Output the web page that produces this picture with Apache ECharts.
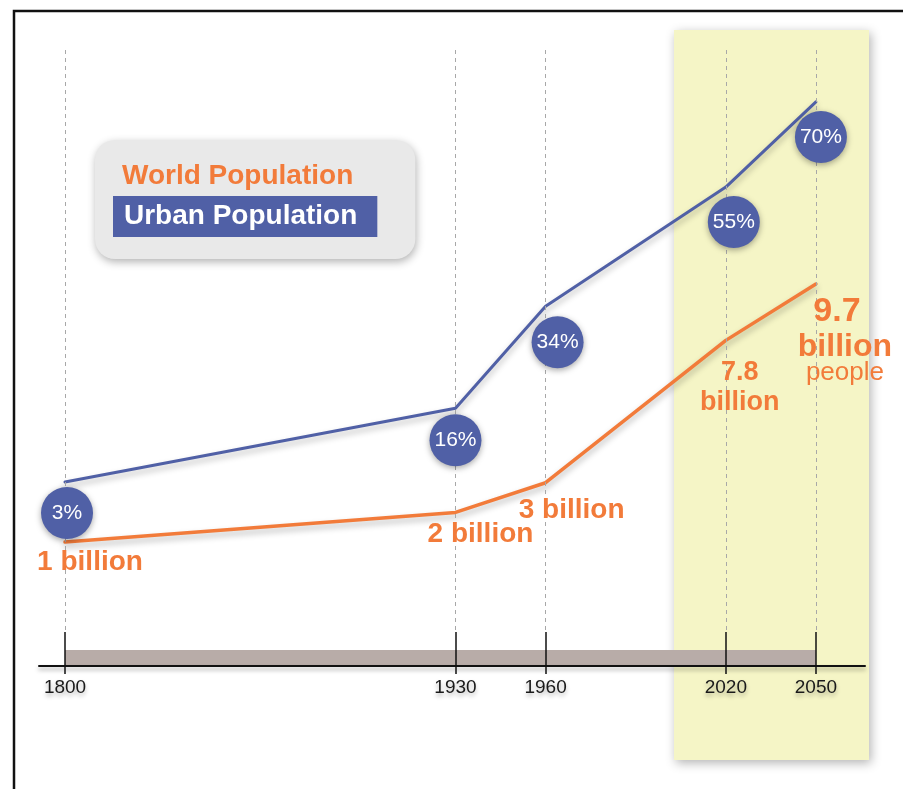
<!DOCTYPE html>
<html><head><meta charset="utf-8">
<script src="https://cdn.jsdelivr.net/npm/echarts@6/dist/echarts.min.js"></script>
<style>html,body{margin:0;padding:0;background:#fff}#c{width:903px;height:789px}</style>
</head><body><div id="c"></div>
<script>
// ---- data ----
const years = [1800, 1930, 1960, 2020, 2050];
const tickLabels = ['1800', '1930', '1960', '2020', '2050'];
const worldPopulation = [1, 2, 3, 7.8, 9.7];          // billions
const urbanShare = [3, 16, 34, 55, 70];               // percent
const worldLabels = ['1 billion', '2 billion', '3 billion', '7.8\nbillion', '9.7\nbillion\npeople'];
const seriesNames = ['World Population', 'Urban Population'];

// ---- layout / style (not data) ----
const ORANGE = '#f27b3a', BLUE = '#5060a6';
const FONT = '"Liberation Sans", Arial, sans-serif';
const worldLabelOffsets = [[25, 20], [25, 22], [26, 28], [14, 47], [29, 54]];
const worldRichKeys = [['s'], ['s'], ['s'], ['m', 'm'], ['a', 'b', 'c']];
const circleOffsets = [[2, 31], [0, 32], [12, 36], [8, 35], [5, 35]];
const W_MIN = -3.179, W_MAX = 17.59, W_DASH_END = -2.03;
const U_MIN = -29.44, U_MAX = 79.16;

const chart = echarts.init(document.getElementById('c'), null, {renderer: 'canvas'});

const worldPts = years.map((y, i) => [y, worldPopulation[i]]);
const urbanPts = years.map((y, i) => [y, urbanShare[i]]);
const lineShadow = {shadowColor: 'rgba(0,0,0,0.28)', shadowBlur: 6, shadowOffsetY: 4};

const option = {
  animation: false,
  backgroundColor: '#ffffff',
  textStyle: {fontFamily: FONT},
  grid: {left: 39, right: 38, top: 50, bottom: 123},
  legend: {
    orient: 'vertical', left: 95, top: 140,
    padding: [21, 38, 22, 13],
    itemWidth: 0, itemHeight: 14, itemGap: 5,
    backgroundColor: '#e9e9e9', borderRadius: 20,
    shadowBlur: 8, shadowColor: 'rgba(0,0,0,0.3)', shadowOffsetY: 3, shadowOffsetX: 1,
    selectedMode: false,
    data: [
      {name: seriesNames[0], icon: 'none',
        textStyle: {color: ORANGE, fontSize: 28, fontWeight: 'bold', fontFamily: FONT, lineHeight: 28, padding: [2, 0, 0, 9]}},
      {name: seriesNames[1], icon: 'none',
        textStyle: {color: '#fff', backgroundColor: BLUE, fontSize: 28, fontWeight: 'bold', fontFamily: FONT, lineHeight: 28, padding: [7, 20, 6, 11]}}
    ]
  },
  xAxis: {
    type: 'value', min: 1791.34, max: 2066.34,
    splitLine: {show: false},
    axisLine: {onZero: false, lineStyle: {color: '#111', width: 2, shadowColor: 'rgba(0,0,0,0.35)', shadowBlur: 4, shadowOffsetY: 3}},
    axisTick: {customValues: years, length: 8, lineStyle: {color: '#111', width: 1.5}},
    axisLabel: {
      customValues: years, margin: 12,
      formatter: v => tickLabels[years.indexOf(v)],
      color: '#1a1a1a', fontSize: 19, fontFamily: FONT,
      textShadowColor: 'rgba(0,0,0,0.3)', textShadowBlur: 4, textShadowOffsetY: 3
    }
  },
  yAxis: [
    {type: 'value', min: W_MIN, max: W_MAX, show: false},
    {type: 'value', min: U_MIN, max: U_MAX, show: false}
  ],
  series: [
    {
      name: seriesNames[0], type: 'line', data: worldPts, symbol: 'none', z: 3,
      lineStyle: Object.assign({color: ORANGE, width: 3.5, cap: 'round'}, lineShadow),
      itemStyle: {color: ORANGE},
      markLine: {
        silent: true, symbol: 'none', label: {show: false}, animation: false,
        data: years.flatMap(y => [
          [{coord: [y, W_MAX], lineStyle: {color: '#a8a8a8', type: [4, 4], width: 1}}, {coord: [y, W_DASH_END]}],
          [{coord: [y, W_DASH_END], lineStyle: {color: '#111', type: 'solid', width: 1.5}}, {coord: [y, W_MIN]}]
        ])
      }
    },
    {
      name: seriesNames[1], type: 'line', yAxisIndex: 1, data: urbanPts, symbol: 'none', z: 3,
      lineStyle: Object.assign({color: BLUE, width: 3, cap: 'round'}, lineShadow),
      itemStyle: {color: BLUE}
    },
    {
      name: seriesNames[1], type: 'scatter', yAxisIndex: 1, z: 5,
      data: urbanPts.map((p, i) => ({value: p, symbolOffset: circleOffsets[i]})),
      symbol: 'circle', symbolSize: 52,
      itemStyle: {color: BLUE, opacity: 1, shadowColor: 'rgba(0,0,0,0.35)', shadowBlur: 6, shadowOffsetY: 2},
      label: {
        show: true, position: 'inside', color: '#fff', fontSize: 21, fontFamily: FONT,
        formatter: p => urbanShare[p.dataIndex] + '%'
      }
    },
    {
      name: seriesNames[0], type: 'scatter', z: 6,
      data: worldPts.map((p, i) => ({value: p, label: {offset: worldLabelOffsets[i]}})),
      symbol: 'circle', symbolSize: 1, itemStyle: {color: 'rgba(0,0,0,0)', opacity: 1},
      label: {
        show: true, position: 'inside', align: 'center', verticalAlign: 'middle',
        formatter: p => worldLabels[p.dataIndex].split('\n')
          .map((t, k) => '{' + worldRichKeys[p.dataIndex][k] + '|' + t + '}').join('\n'),
        rich: {
          s: {color: ORANGE, fontSize: 28, fontWeight: 'bold', lineHeight: 30, fontFamily: FONT, align: 'center'},
          m: {color: ORANGE, fontSize: 27, fontWeight: 'bold', lineHeight: 30, fontFamily: FONT, align: 'center'},
          a: {color: ORANGE, fontSize: 34, fontWeight: 'bold', lineHeight: 38, fontFamily: FONT, align: 'center', padding: [0, 16, 0, 0]},
          b: {color: ORANGE, fontSize: 32, fontWeight: 'bold', lineHeight: 32, fontFamily: FONT, align: 'center'},
          c: {color: ORANGE, fontSize: 26, fontWeight: 'normal', lineHeight: 20, fontFamily: FONT, align: 'center'}
        }
      }
    }
  ]
};
chart.setOption(option);

const x0 = chart.convertToPixel({xAxisIndex: 0}, years[0]);
const x1 = chart.convertToPixel({xAxisIndex: 0}, years[years.length - 1]);
const axisY = chart.convertToPixel({yAxisIndex: 0}, W_MIN);
chart.setOption({
  graphic: [
    {type: 'rect', z: -10, shape: {x: 674, y: 30, width: 195, height: 730},
      style: {fill: '#f5f5c6', shadowBlur: 10, shadowColor: 'rgba(0,0,0,0.3)', shadowOffsetX: 2, shadowOffsetY: 3}},
    {type: 'rect', z: -5, shape: {x: x0, y: axisY - 16, width: x1 - x0, height: 16},
      style: {fill: '#b8aca8'}},
    {type: 'rect', z: 10, shape: {x: 14, y: 11, width: 1000, height: 1000},
      style: {fill: 'none', stroke: '#111', lineWidth: 2.5}}
  ]
});
</script></body></html>
